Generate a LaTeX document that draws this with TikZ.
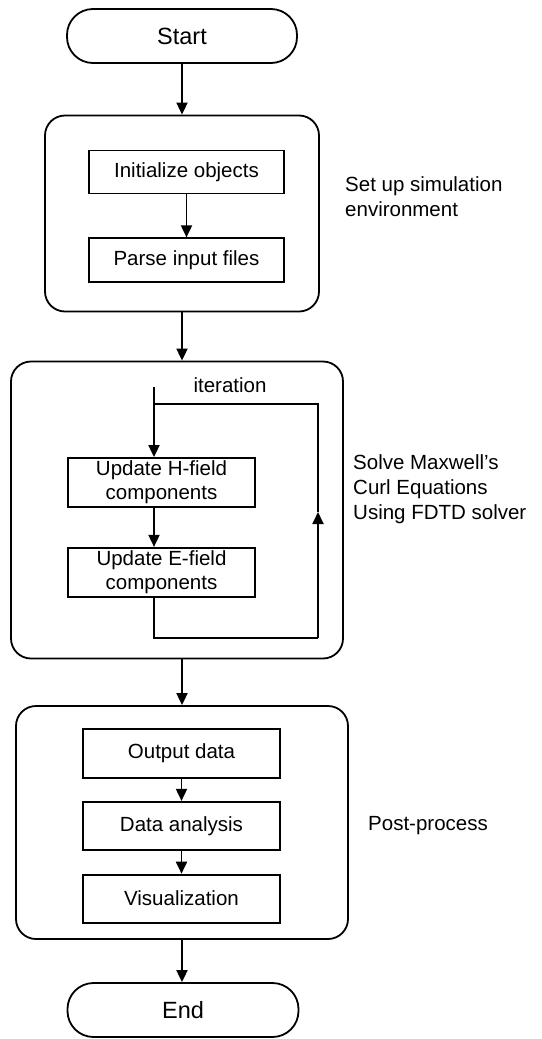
\documentclass[tikz,border=0pt]{standalone}
\usepackage{fontspec}
\setmainfont{Liberation Sans}
\usepackage{tikz}
\usetikzlibrary{shapes.geometric, arrows.meta}
\usetikzlibrary{positioning}
\tikzstyle{terminal} = [rectangle, rounded corners=26pt, minimum width=230pt, minimum height=54pt, text centered, draw=black, line width=1.8pt, font=\fontsize{23.5}{28}\selectfont]
\tikzstyle{stage} = [rectangle, rounded corners=20pt, draw=black, line width=1.8pt]
\tikzstyle{process} = [rectangle, minimum height=44pt, text centered, align=center, draw=black, line width=1.8pt, inner sep=1pt, font=\fontsize{20.5}{24}\selectfont]
\tikzstyle{note} = [align=left, anchor=west, inner sep=0pt, font=\fontsize{20.5}{25}\selectfont]
\tikzstyle{arrow} = [line width=1.8pt, -{Triangle[length=12pt, width=11pt]}]
\tikzstyle{link} = [line width=1.8pt, -]

\begin{document}
\begin{tikzpicture}[x=1pt, y=-1pt]
                        \useasboundingbox (0,0) rectangle (541,1039);
                        \node (start) [terminal] at (182,36) {Start};
                        % set up
                        \node (setup) [stage, minimum width=274pt, minimum height=196pt] at (182,213.5) {};
                        \node (init) [process, minimum width=195pt, minimum height=43pt] at (186.5,172) {Initialize objects};
                        \node (parse) [process, minimum width=195pt, below=43pt of init] {Parse input files};
                        \node (setupNote) [note] at (345,197) {Set up simulation\\environment};
                        % solver
                        \node (solver) [stage, minimum width=332pt, minimum height=297pt] at (177,510) {};
                        \node (iterLabel) [font=\fontsize{20.5}{24}\selectfont] at (230,385) {iteration};
                        \coordinate (iterTop) at (154,387);
                        \coordinate (loopTop) at (318,404);
                        \coordinate (loopMid) at (318,512);
                        \coordinate (loopCorner) at (318,638);
                        \node (hfield) [process, minimum width=187pt, minimum height=49pt] at (161.5,482.5) {Update H-field\\components};
                        \node (efield) [process, minimum width=187pt, minimum height=49pt, below=39pt of hfield] {Update E-field\\components};
                        \node (solverNote) [note] at (353,489) {Solve Maxwell’s\\Curl Equations\\Using FDTD solver};
                        % post process
                        \node (post) [stage, minimum width=332pt, minimum height=233pt] at (182,822.5) {};
                        \node (output) [process, minimum width=197pt, minimum height=49pt] at (181.5,753.5) {Output data};
                        \node (analysis) [process, minimum width=197pt, minimum height=48pt, below=22pt of output] {Data analysis};
                        \node (visual) [process, minimum width=197pt, minimum height=48pt, below=23pt of analysis] {Visualization};
                        \node (postNote) [note] at (368,826) {Post-process};
                        \node (end) [terminal, minimum width=231pt] at (183,1010) {End};
                        % connectors
                        \draw [arrow] (start) -- (setup);
                        \draw [arrow] (init) -- (parse);
                        \draw [arrow] (setup.south) -- (setup.south |- solver.north);
                        \draw [arrow] (iterTop) -- (iterTop |- hfield.north);
                        \draw [arrow] (hfield.south -| iterTop) -- (efield.north -| iterTop);
                        \draw [link] (efield.south -| iterTop) |- (loopCorner);
                        \draw [arrow] (loopCorner) -- (loopMid);
                        \draw [link] (loopMid) -- (loopTop) -- (iterTop |- loopTop);
                        \draw [arrow] (solver.south -| setup.south) -- (setup.south |- post.north);
                        \draw [arrow] (output) -- (analysis);
                        \draw [arrow] (analysis) -- (visual);
                        \draw [arrow] (post.south) -- (post.south |- end.north);
                    \end{tikzpicture}
\end{document}
